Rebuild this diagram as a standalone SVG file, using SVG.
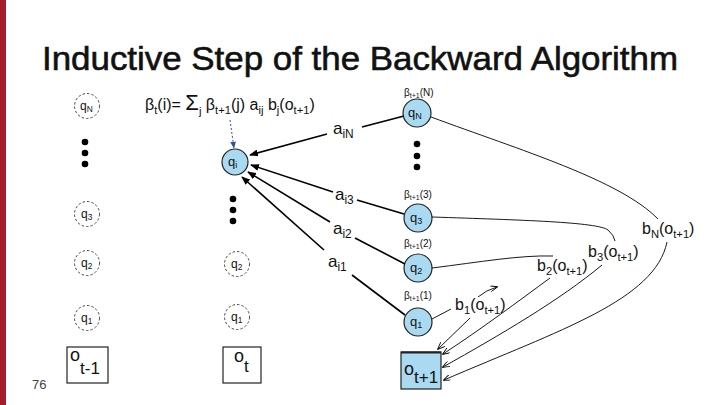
<svg xmlns="http://www.w3.org/2000/svg" width="720" height="405" viewBox="0 0 720 405">
<defs>
<style>
text{font-family:"Liberation Sans",Arial,sans-serif;fill:#111}
.title{font-size:34px}
.node{fill:#a9daf1;stroke:#222;stroke-width:1.2}
.ghost{fill:none;stroke:#333;stroke-width:0.9;stroke-dasharray:2.5 2}
.nl{font-size:13px}
.gl{font-size:12px}
.sub{font-size:70%}
.dot{fill:#000}
.box{fill:#fff;stroke:#222;stroke-width:1.2}
.boxb{fill:#a9daf1;stroke:#222;stroke-width:1.2}
.ta{stroke:#000;stroke-width:1.6;fill:none}
.tb{stroke:#000;stroke-width:0.9;fill:none}
.lab{font-size:17px}
.beta{font-size:10px}
.bl{font-size:16px}
</style>
<marker id="ah" viewBox="0 0 10 8" markerWidth="9" markerHeight="7" refX="9" refY="4" orient="auto" markerUnits="userSpaceOnUse">
<path d="M0,0 L10,4 L0,8 z" fill="#000"/>
</marker>
<marker id="av" viewBox="0 0 10 8" markerWidth="8" markerHeight="6" refX="9" refY="4" orient="auto" markerUnits="userSpaceOnUse">
<path d="M0,0 L10,4 L0,8" fill="none" stroke="#000" stroke-width="1.2"/>
</marker>
<marker id="ab" viewBox="0 0 10 8" markerWidth="7" markerHeight="6" refX="9" refY="4" orient="auto" markerUnits="userSpaceOnUse">
<path d="M0,0 L10,4 L0,8 z" fill="#2d4fa8"/>
</marker>
</defs>
<rect x="0" y="0" width="720" height="405" fill="#fff"/>
<rect x="0" y="0" width="6" height="405" fill="#a51c30"/>
<text class="title" x="42" y="70" textLength="636" lengthAdjust="spacingAndGlyphs" stroke="#111" stroke-width="0.6">Inductive Step of the Backward Algorithm</text>
<text x="32" y="389" font-size="13" style="fill:#444">76</text>

<g id="formula">
<text x="145" y="110" font-size="16">β<tspan class="sub" dy="4">t</tspan><tspan dy="-4">(i)= </tspan><tspan font-size="22">Σ</tspan><tspan class="sub" dy="5">j</tspan><tspan dy="-5"> β</tspan><tspan class="sub" dy="4">t+1</tspan><tspan dy="-4">(j) a</tspan><tspan class="sub" dy="4">ij</tspan><tspan dy="-4">  b</tspan><tspan class="sub" dy="4">j</tspan><tspan dy="-4">(o</tspan><tspan class="sub" dy="4">t+1</tspan><tspan dy="-4">)</tspan></text>
</g>

<g id="col-t-1">
<g id="L-qN"><circle class="ghost" cx="87" cy="106" r="12.5"/><text class="gl" x="80" y="110">q<tspan class="sub" dy="2">N</tspan></text></g>
<circle class="dot" cx="85" cy="142" r="3.3"/><circle class="dot" cx="85" cy="153" r="3.3"/><circle class="dot" cx="85" cy="164" r="3.3"/>
<g id="L-q3"><circle class="ghost" cx="87" cy="214" r="12.5"/><text class="gl" x="81" y="218">q<tspan class="sub" dy="2">3</tspan></text></g>
<g id="L-q2"><circle class="ghost" cx="87" cy="263" r="12.5"/><text class="gl" x="81" y="267">q<tspan class="sub" dy="2">2</tspan></text></g>
<g id="L-q1"><circle class="ghost" cx="87" cy="318" r="12.5"/><text class="gl" x="81" y="322">q<tspan class="sub" dy="2">1</tspan></text></g>
<g id="L-o"><rect class="box" x="67" y="347" width="41" height="36"/><text x="70" y="361" font-size="18">o<tspan dy="13" font-size="17">t-1</tspan></text></g>
</g>

<g id="col-t">
<g id="M-qi"><circle class="node" cx="235" cy="162" r="13"/><text class="nl" x="228" y="166">q<tspan class="sub" dy="2">i</tspan></text></g>
<circle class="dot" cx="233" cy="199" r="3.3"/><circle class="dot" cx="233" cy="210" r="3.3"/><circle class="dot" cx="233" cy="221" r="3.3"/>
<g id="M-q2"><circle class="ghost" cx="237" cy="264" r="12.5"/><text class="gl" x="231" y="268">q<tspan class="sub" dy="2">2</tspan></text></g>
<g id="M-q1"><circle class="ghost" cx="237" cy="317" r="12.5"/><text class="gl" x="231" y="321">q<tspan class="sub" dy="2">1</tspan></text></g>
<g id="M-o"><rect class="box" x="223" y="347" width="38" height="36"/><text x="234" y="362" font-size="18">o<tspan dy="10" font-size="17">t</tspan></text></g>
</g>

<g id="col-t1">
<g id="R-qN"><circle class="node" cx="417" cy="113" r="14"/><text class="nl" x="408" y="117">q<tspan class="sub" dy="2">N</tspan></text><text class="beta" x="404" y="96">β<tspan class="sub" dy="2">t+1</tspan><tspan dy="-2">(N)</tspan></text></g>
<circle class="dot" cx="417" cy="144" r="3.3"/><circle class="dot" cx="417" cy="156" r="3.3"/><circle class="dot" cx="417" cy="167" r="3.3"/>
<g id="R-q3"><circle class="node" cx="418" cy="218" r="14"/><text class="nl" x="410" y="222">q<tspan class="sub" dy="2">3</tspan></text><text class="beta" x="404" y="198">β<tspan class="sub" dy="2">t+1</tspan><tspan dy="-2">(3)</tspan></text></g>
<g id="R-q2"><circle class="node" cx="418" cy="268" r="14"/><text class="nl" x="410" y="272">q<tspan class="sub" dy="2">2</tspan></text><text class="beta" x="404" y="247">β<tspan class="sub" dy="2">t+1</tspan><tspan dy="-2">(2)</tspan></text></g>
<g id="R-q1"><circle class="node" cx="418" cy="322" r="14"/><text class="nl" x="410" y="326">q<tspan class="sub" dy="2">1</tspan></text><text class="beta" x="404" y="299">β<tspan class="sub" dy="2">t+1</tspan><tspan dy="-2">(1)</tspan></text></g>
<g id="R-o"><rect class="boxb" x="401" y="352" width="40" height="37"/><line x1="401" y1="352.5" x2="441" y2="352.5" stroke="#222" stroke-width="2"/><text x="404" y="375" font-size="18">o<tspan dy="8" font-size="17">t+1</tspan></text></g>
</g>

<g id="connectors">
<path d="M230,120 L234,148" stroke="#2d4fa8" stroke-width="1" stroke-dasharray="2 2" fill="none" marker-end="url(#ab)"/>
<line class="ta" x1="404" y1="116" x2="362" y2="127"/>
<line class="ta" x1="327" y1="134" x2="250" y2="155" marker-end="url(#ah)"/>
<line class="ta" x1="404" y1="214" x2="357" y2="200"/>
<line class="ta" x1="333" y1="192" x2="251" y2="165" marker-end="url(#ah)"/>
<line class="ta" x1="405" y1="264" x2="355" y2="238"/>
<line class="ta" x1="330" y1="222" x2="248" y2="172" marker-end="url(#ah)"/>
<line class="ta" x1="405" y1="315" x2="352" y2="275"/>
<line class="ta" x1="324" y1="250" x2="242" y2="177" marker-end="url(#ah)"/>

<line class="tb" x1="432" y1="319" x2="451" y2="309"/>
<line class="tb" x1="470" y1="318" x2="438" y2="349" marker-end="url(#av)"/>
<path class="tb" d="M478,297 Q486,290 497,287" marker-end="url(#av)"/>
<path class="tb" d="M432,268 C480,262 520,255 553,256"/>
<path class="tb" d="M550,278 C520,300 480,330 443,354" marker-end="url(#av)"/>
<path class="tb" d="M432,217 C520,220 598,222 608,230 Q614,235 615,241"/>
<path class="tb" d="M602,265 C560,300 500,335 443,367" marker-end="url(#av)"/>
<path class="tb" d="M431,117 C520,150 620,180 658,219"/>
<path class="tb" d="M667,242 C655,300 560,330 444,380" marker-end="url(#av)"/>
</g>

<g id="labels">
<text class="lab" x="333" y="134">a<tspan class="sub" dy="4">iN</tspan></text>
<text class="lab" x="335" y="200">a<tspan class="sub" dy="4">i3</tspan></text>
<text class="lab" x="333" y="234">a<tspan class="sub" dy="4">i2</tspan></text>
<text class="lab" x="328" y="267">a<tspan class="sub" dy="4">i1</tspan></text>
<text class="bl" x="455" y="310">b<tspan class="sub" dy="4">1</tspan><tspan dy="-4">(o</tspan><tspan class="sub" dy="4">t+1</tspan><tspan dy="-4">)</tspan></text>
<text class="bl" x="537" y="271">b<tspan class="sub" dy="4">2</tspan><tspan dy="-4">(o</tspan><tspan class="sub" dy="4">t+1</tspan><tspan dy="-4">)</tspan></text>
<text class="bl" x="588" y="257">b<tspan class="sub" dy="4">3</tspan><tspan dy="-4">(o</tspan><tspan class="sub" dy="4">t+1</tspan><tspan dy="-4">)</tspan></text>
<text class="bl" x="642" y="234">b<tspan class="sub" dy="4">N</tspan><tspan dy="-4">(o</tspan><tspan class="sub" dy="4">t+1</tspan><tspan dy="-4">)</tspan></text>
</g>
</svg>
